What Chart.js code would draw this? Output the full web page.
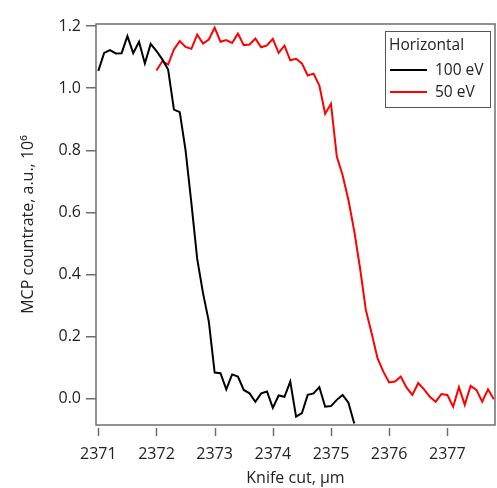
<!DOCTYPE html>
<html>
<head>
<meta charset="utf-8">
<script src="https://cdn.jsdelivr.net/npm/chart.js@4"></script>
<style>
  html, body { margin: 0; padding: 0; background: #fff; }
  #wrap { width: 497px; height: 488px; }
</style>
</head>
<body>
<div id="wrap"><canvas id="chart" width="497" height="488"></canvas></div>
<script>
// knife position (µm) and MCP countrate (a.u., 10^6)
const cut100 = [
  2371.0, 2371.1, 2371.2, 2371.3, 2371.4, 2371.5, 2371.6, 2371.7, 2371.8, 2371.9,
  2372.0, 2372.1, 2372.2, 2372.3, 2372.4, 2372.5, 2372.6, 2372.7, 2372.8, 2372.9,
  2373.0, 2373.1, 2373.2, 2373.3, 2373.4, 2373.5, 2373.6, 2373.7, 2373.8, 2373.9,
  2374.0, 2374.1, 2374.2, 2374.3, 2374.4, 2374.5, 2374.6, 2374.7, 2374.8, 2374.9,
  2375.0, 2375.1, 2375.2, 2375.3, 2375.4
];
const rate100 = [
  1.056, 1.114, 1.123, 1.112, 1.113, 1.168, 1.113, 1.150, 1.080, 1.143,
  1.120, 1.093, 1.060, 0.931, 0.923, 0.800, 0.630, 0.450, 0.340, 0.248,
  0.084, 0.082, 0.030, 0.078, 0.071, 0.028, 0.017, -0.010, 0.017, 0.023,
  -0.030, 0.010, 0.006, 0.055, -0.058, -0.047, 0.012, 0.017, 0.037, -0.026,
  -0.024, -0.004, 0.012, -0.013, -0.080
];

const cut50 = [
  2372.0, 2372.1, 2372.2, 2372.3, 2372.4, 2372.5, 2372.6, 2372.7, 2372.8, 2372.9,
  2373.0, 2373.1, 2373.2, 2373.3, 2373.4, 2373.5, 2373.6, 2373.7, 2373.8, 2373.9,
  2374.0, 2374.1, 2374.2, 2374.3, 2374.4, 2374.5, 2374.6, 2374.7, 2374.8, 2374.9,
  2375.0, 2375.1, 2375.2, 2375.3, 2375.4, 2375.5, 2375.6, 2375.7, 2375.8, 2375.9,
  2376.0, 2376.1, 2376.2, 2376.3, 2376.4, 2376.5, 2376.6, 2376.7, 2376.8, 2376.9,
  2377.0, 2377.1, 2377.2, 2377.3, 2377.4, 2377.5, 2377.6, 2377.7, 2377.8
];
const rate50 = [
  1.057, 1.087, 1.076, 1.125, 1.152, 1.133, 1.127, 1.173, 1.144, 1.157,
  1.195, 1.150, 1.155, 1.146, 1.176, 1.139, 1.141, 1.160, 1.132, 1.138,
  1.159, 1.114, 1.137, 1.090, 1.095, 1.080, 1.041, 1.047, 1.009, 0.918,
  0.950, 0.780, 0.720, 0.640, 0.540, 0.420, 0.285, 0.210, 0.130, 0.087,
  0.052, 0.055, 0.071, 0.035, 0.012, 0.050, 0.030, 0.006, -0.010, 0.015,
  0.012, -0.026, 0.037, -0.020, 0.041, 0.028, -0.010, 0.030, -0.002
];

const xTicks = [2371, 2372, 2373, 2374, 2375, 2376, 2377];
const yTicks = [0, 0.2, 0.4, 0.6, 0.8, 1.0, 1.2];

const FONT = '"Open Sans", sans-serif';
const AXIS = '#6e6e6e';

const toPoints = (xs, ys) => xs.map((x, i) => ({ x: x, y: ys[i] }));

// frame, offset x tick marks and the boxed legend
const framePlugin = {
  id: 'frame',
  afterDraw(chart) {
    const { ctx, chartArea: a, scales } = chart;
    ctx.save();
    ctx.strokeStyle = AXIS;
    ctx.lineWidth = 1.5;
    ctx.strokeRect(a.left, a.top, a.right - a.left, a.bottom - a.top);

    scales.x.ticks.forEach(t => {
      const px = Math.round(scales.x.getPixelForValue(t.value)) + 0.5;
      ctx.beginPath();
      ctx.moveTo(px, a.bottom + 3);
      ctx.lineTo(px, a.bottom + 11);
      ctx.stroke();
    });

    // legend
    const lx = a.right - 110, ly = a.top + 7;
    ctx.lineWidth = 1;
    ctx.strokeStyle = '#555';
    ctx.strokeRect(lx + 0.5, ly + 0.5, 105, 76);
    ctx.fillStyle = '#222';
    ctx.font = '15.5px ' + FONT;
    ctx.textBaseline = 'middle';
    ctx.textAlign = 'left';
    ctx.fillText('Horizontal', lx + 4, ly + 15);
    chart.data.datasets.forEach((ds, i) => {
      const yy = ly + 39 + i * 22;
      ctx.strokeStyle = ds.borderColor;
      ctx.lineWidth = 2;
      ctx.beginPath();
      ctx.moveTo(lx + 5, yy);
      ctx.lineTo(lx + 42, yy);
      ctx.stroke();
      ctx.fillText(ds.label, lx + 50, yy + 1);
    });
    ctx.restore();
  }
};

new Chart(document.getElementById('chart'), {
  type: 'line',
  data: {
    datasets: [
      {
        label: '100 eV',
        data: toPoints(cut100, rate100),
        borderColor: '#000000',
        borderWidth: 2,
        pointRadius: 0,
        fill: false,
        tension: 0
      },
      {
        label: '50 eV',
        data: toPoints(cut50, rate50),
        borderColor: '#ff0000',
        borderWidth: 2,
        pointRadius: 0,
        fill: false,
        tension: 0
      }
    ]
  },
  options: {
    responsive: false,
    animation: false,
    layout: { padding: { top: 24, right: 2, left: 19, bottom: 0 } },
    plugins: {
      legend: { display: false },
      tooltip: { enabled: false }
    },
    scales: {
      x: {
        type: 'linear',
        min: 2370.96,
        max: 2377.82,
        afterBuildTicks: s => { s.ticks = xTicks.map(v => ({ value: v })); },
        afterFit: s => { s.height = 63; },
        border: { display: false },
        grid: { drawOnChartArea: false, tickLength: 11, tickColor: 'transparent' },
        ticks: {
          color: '#222',
          font: { family: FONT, size: 16 },
          padding: 9,
          maxRotation: 0,
          callback: v => String(v)
        },
        title: {
          display: true,
          text: 'Knife cut, µm',
          color: '#222',
          font: { family: FONT, size: 16 },
          padding: { top: 3, bottom: 0 }
        }
      },
      y: {
        min: -0.085,
        max: 1.207,
        afterBuildTicks: s => { s.ticks = yTicks.map(v => ({ value: v })); },
        afterFit: s => { s.width = 77; },
        border: { display: false },
        grid: { drawOnChartArea: false, tickLength: 10, tickColor: AXIS, lineWidth: 1.5 },
        ticks: {
          color: '#222',
          font: { family: FONT, size: 16 },
          padding: 5,
          callback: v => v.toFixed(1)
        },
        title: {
          display: true,
          text: 'MCP countrate, a.u., 10⁶',
          color: '#222',
          font: { family: FONT, size: 16 },
          padding: { top: 0, bottom: 0 }
        }
      }
    }
  },
  plugins: [framePlugin]
});
</script>
</body>
</html>
